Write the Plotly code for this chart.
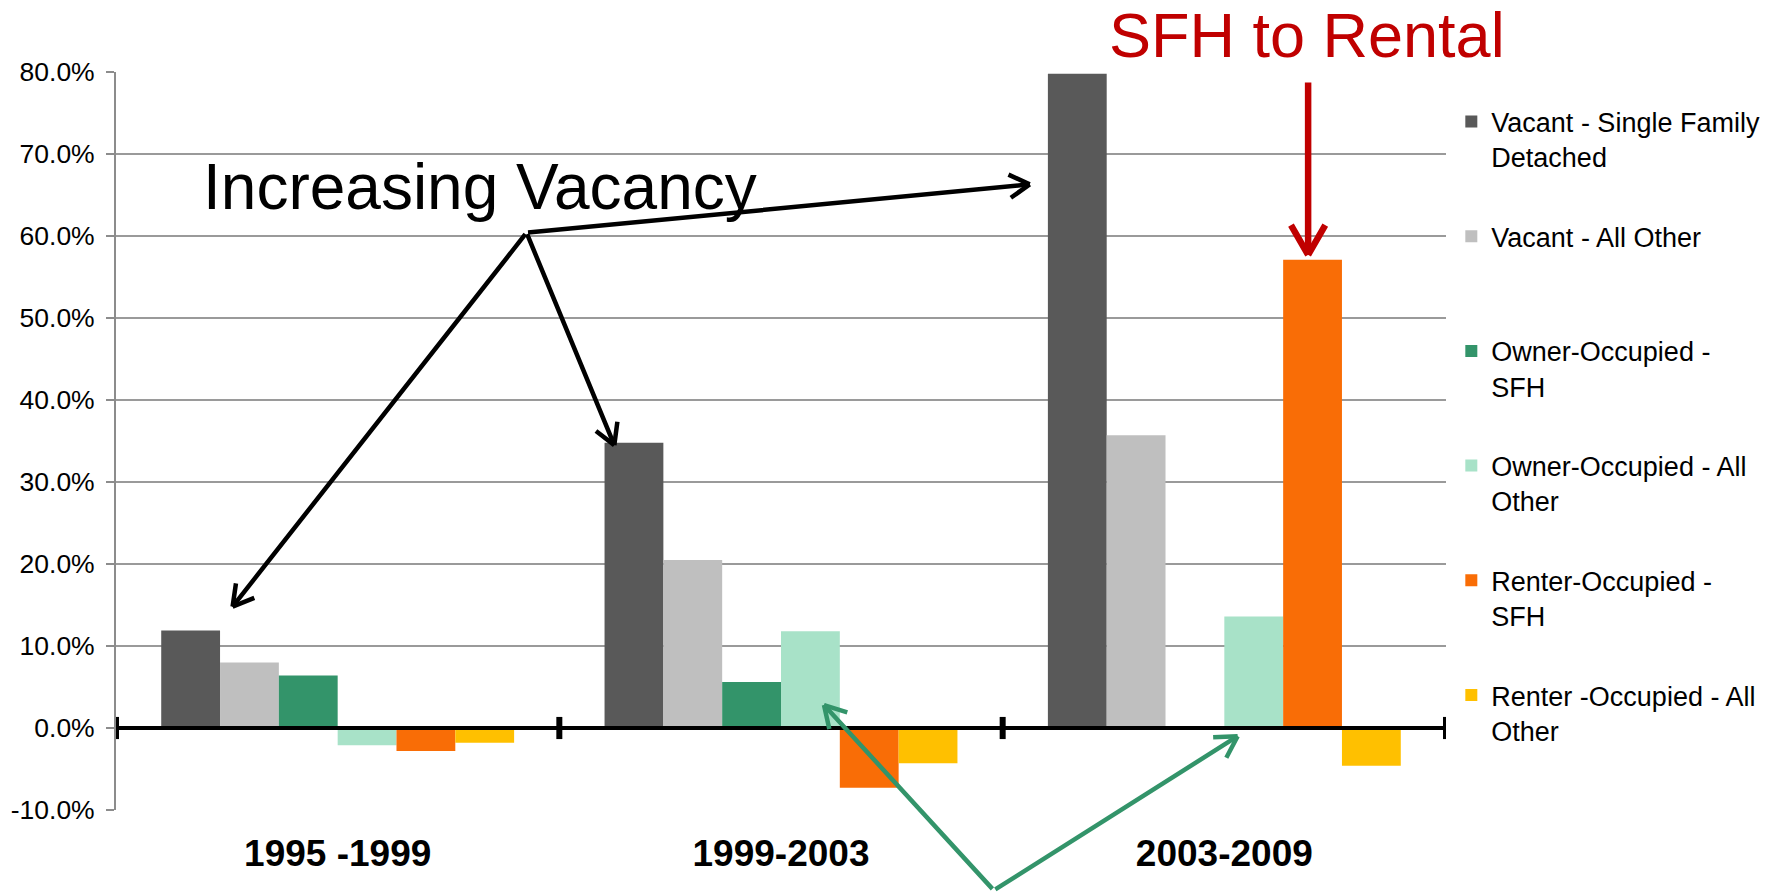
import math
import plotly.graph_objects as go

# ---------------- data ----------------
categories = ["1995 -1999", "1999-2003", "2003-2009"]
series_names = [
    "Vacant - Single Family<br>Detached",
    "Vacant - All Other<br>\u00a0",
    "Owner-Occupied -<br>SFH",
    "Owner-Occupied - All<br>Other",
    "Renter-Occupied -<br>SFH",
    "Renter -Occupied - All<br>Other",
]
vacant_sfd = [11.9, 34.8, 79.8]
vacant_other = [8.0, 20.5, 35.7]
owner_sfh = [6.4, 5.6, 0.2]
owner_other = [-2.1, 11.8, 13.6]
renter_sfh = [-2.8, -7.3, 57.1]
renter_other = [-1.8, -4.3, -4.6]
series_values = [vacant_sfd, vacant_other, owner_sfh, owner_other, renter_sfh, renter_other]
series_colors = ["#595959", "#BFBFBF", "#33946A", "#A8E2C8", "#F96D06", "#FFC000"]

y_tick_vals = [-10, 0, 10, 20, 30, 40, 50, 60, 70, 80]
y_tick_text = ["-10.0%", "0.0%", "10.0%", "20.0%", "30.0%", "40.0%",
               "50.0%", "60.0%", "70.0%", "80.0%"]

# ---------------- layout constants ----------------
W, H = 1777, 894
ML, MR, MT, MB = 116, 329, 72, 84
Y_MIN, Y_MAX = -10, 80
PX_PER_CAT = (W - ML - MR) / len(categories)
PX_PER_PCT = (H - MT - MB) / (Y_MAX - Y_MIN)

fig = go.Figure()
for name, vals, col in zip(series_names, series_values, series_colors):
    fig.add_trace(go.Bar(
        x=categories, y=vals, name=name, legendgroup=name,
        marker=dict(color=col, line=dict(width=0)),
    ))

annotations = []


def arrow(tail, head, color, width, head_len, head_ang=28):
    """tail/head in data coords (category index, percent)."""
    annotations.append(dict(
        x=head[0], y=head[1], ax=tail[0], ay=tail[1],
        xref="x", yref="y", axref="x", ayref="y",
        text="", showarrow=True, arrowhead=0, arrowwidth=width,
        arrowcolor=color, standoff=0, startstandoff=0,
    ))
    # open "V" head drawn from two short strokes
    dx = (head[0] - tail[0]) * PX_PER_CAT
    dy = -(head[1] - tail[1]) * PX_PER_PCT
    n = math.hypot(dx, dy)
    bx, by = -dx / n, -dy / n
    for s in (1, -1):
        a = math.radians(head_ang) * s
        rx = bx * math.cos(a) - by * math.sin(a)
        ry = bx * math.sin(a) + by * math.cos(a)
        annotations.append(dict(
            x=head[0], y=head[1], ax=rx * head_len, ay=ry * head_len,
            xref="x", yref="y", axref="pixel", ayref="pixel",
            text="", showarrow=True, arrowhead=0, arrowwidth=width,
            arrowcolor=color, standoff=0, startstandoff=0,
        ))


# "Increasing Vacancy" arrows
vac_tail = (0.426, 60.4)
arrow(vac_tail, (-0.237, 14.8), "black", 4.5, 25, 30)
arrow(vac_tail, (0.624, 34.5), "black", 4.5, 25, 30)
arrow(vac_tail, (1.561, 66.3), "black", 4.5, 25, 30)
# SFH to Rental arrow
arrow((2.189, 78.9), (2.189, 57.7), "#C00000", 6.5, 36, 30)
# green arrows
g_tail = (1.480, -19.8)
arrow(g_tail, (1.097, 2.8), "#33946A", 4.5, 26, 30)
arrow(g_tail, (2.030, -1.0), "#33946A", 4.5, 26, 30)

annotations.append(dict(
    x=0.32, y=66.0, xref="x", yref="y", text="Increasing Vacancy",
    showarrow=False, font=dict(family="Arial, Liberation Sans", size=64, color="black"),
    xanchor="center", yanchor="middle",
))
annotations.append(dict(
    x=2.186, y=1.0507, xref="x", yref="paper", text="SFH to Rental",
    showarrow=False, font=dict(family="Arial, Liberation Sans", size=63, color="#C00000"),
    xanchor="center", yanchor="middle",
))

shapes = [dict(type="line", xref="paper", yref="y", x0=0, x1=1, y0=0, y1=0,
               line=dict(color="black", width=4), layer="above")]
for b in [-0.5, 0.5, 1.5, 2.5]:
    shapes.append(dict(type="line", xref="x", yref="y", x0=b, x1=b, y0=-1.35, y1=1.35,
                       line=dict(color="black", width=6), layer="above"))

fig.update_layout(
    width=W, height=H,
    margin=dict(l=ML, r=MR, t=MT, b=MB),
    paper_bgcolor="white", plot_bgcolor="white",
    barmode="group", bargap=0.204, bargroupgap=0,
    font=dict(family="Arial, Liberation Sans", color="black"),
    legend=dict(
        x=1.004, y=0.9655, xanchor="left", yanchor="top",
        font=dict(size=27, color="black"), valign="top",
        tracegroupgap=41.5, traceorder="grouped", bgcolor="rgba(0,0,0,0)",
    ),
    annotations=annotations,
    shapes=shapes,
    showlegend=True,
)
fig.update_xaxes(
    type="category", range=[-0.5, 2.5], showgrid=False, ticks="",
    showline=False, zeroline=False,
    tickfont=dict(size=37, family="Arial, Liberation Sans", color="black", weight="bold"),
    ticklabelstandoff=18,
)
fig.update_yaxes(
    range=[Y_MIN, Y_MAX], tickvals=y_tick_vals, ticktext=y_tick_text,
    showgrid=True, gridcolor="#9A9A9A", gridwidth=1.5,
    showline=True, linecolor="#8C8C8C", linewidth=2,
    ticks="outside", ticklen=8, tickcolor="#8C8C8C", tickwidth=1.5,
    zeroline=False, tickfont=dict(size=26.5, family="Arial, Liberation Sans", color="black"),
    ticklabelstandoff=6,
)

fig.write_html(
    "out.html",
    config={"displayModeBar": False},
    post_script="document.body.style.margin='0px';document.body.style.overflow='hidden';",
)
